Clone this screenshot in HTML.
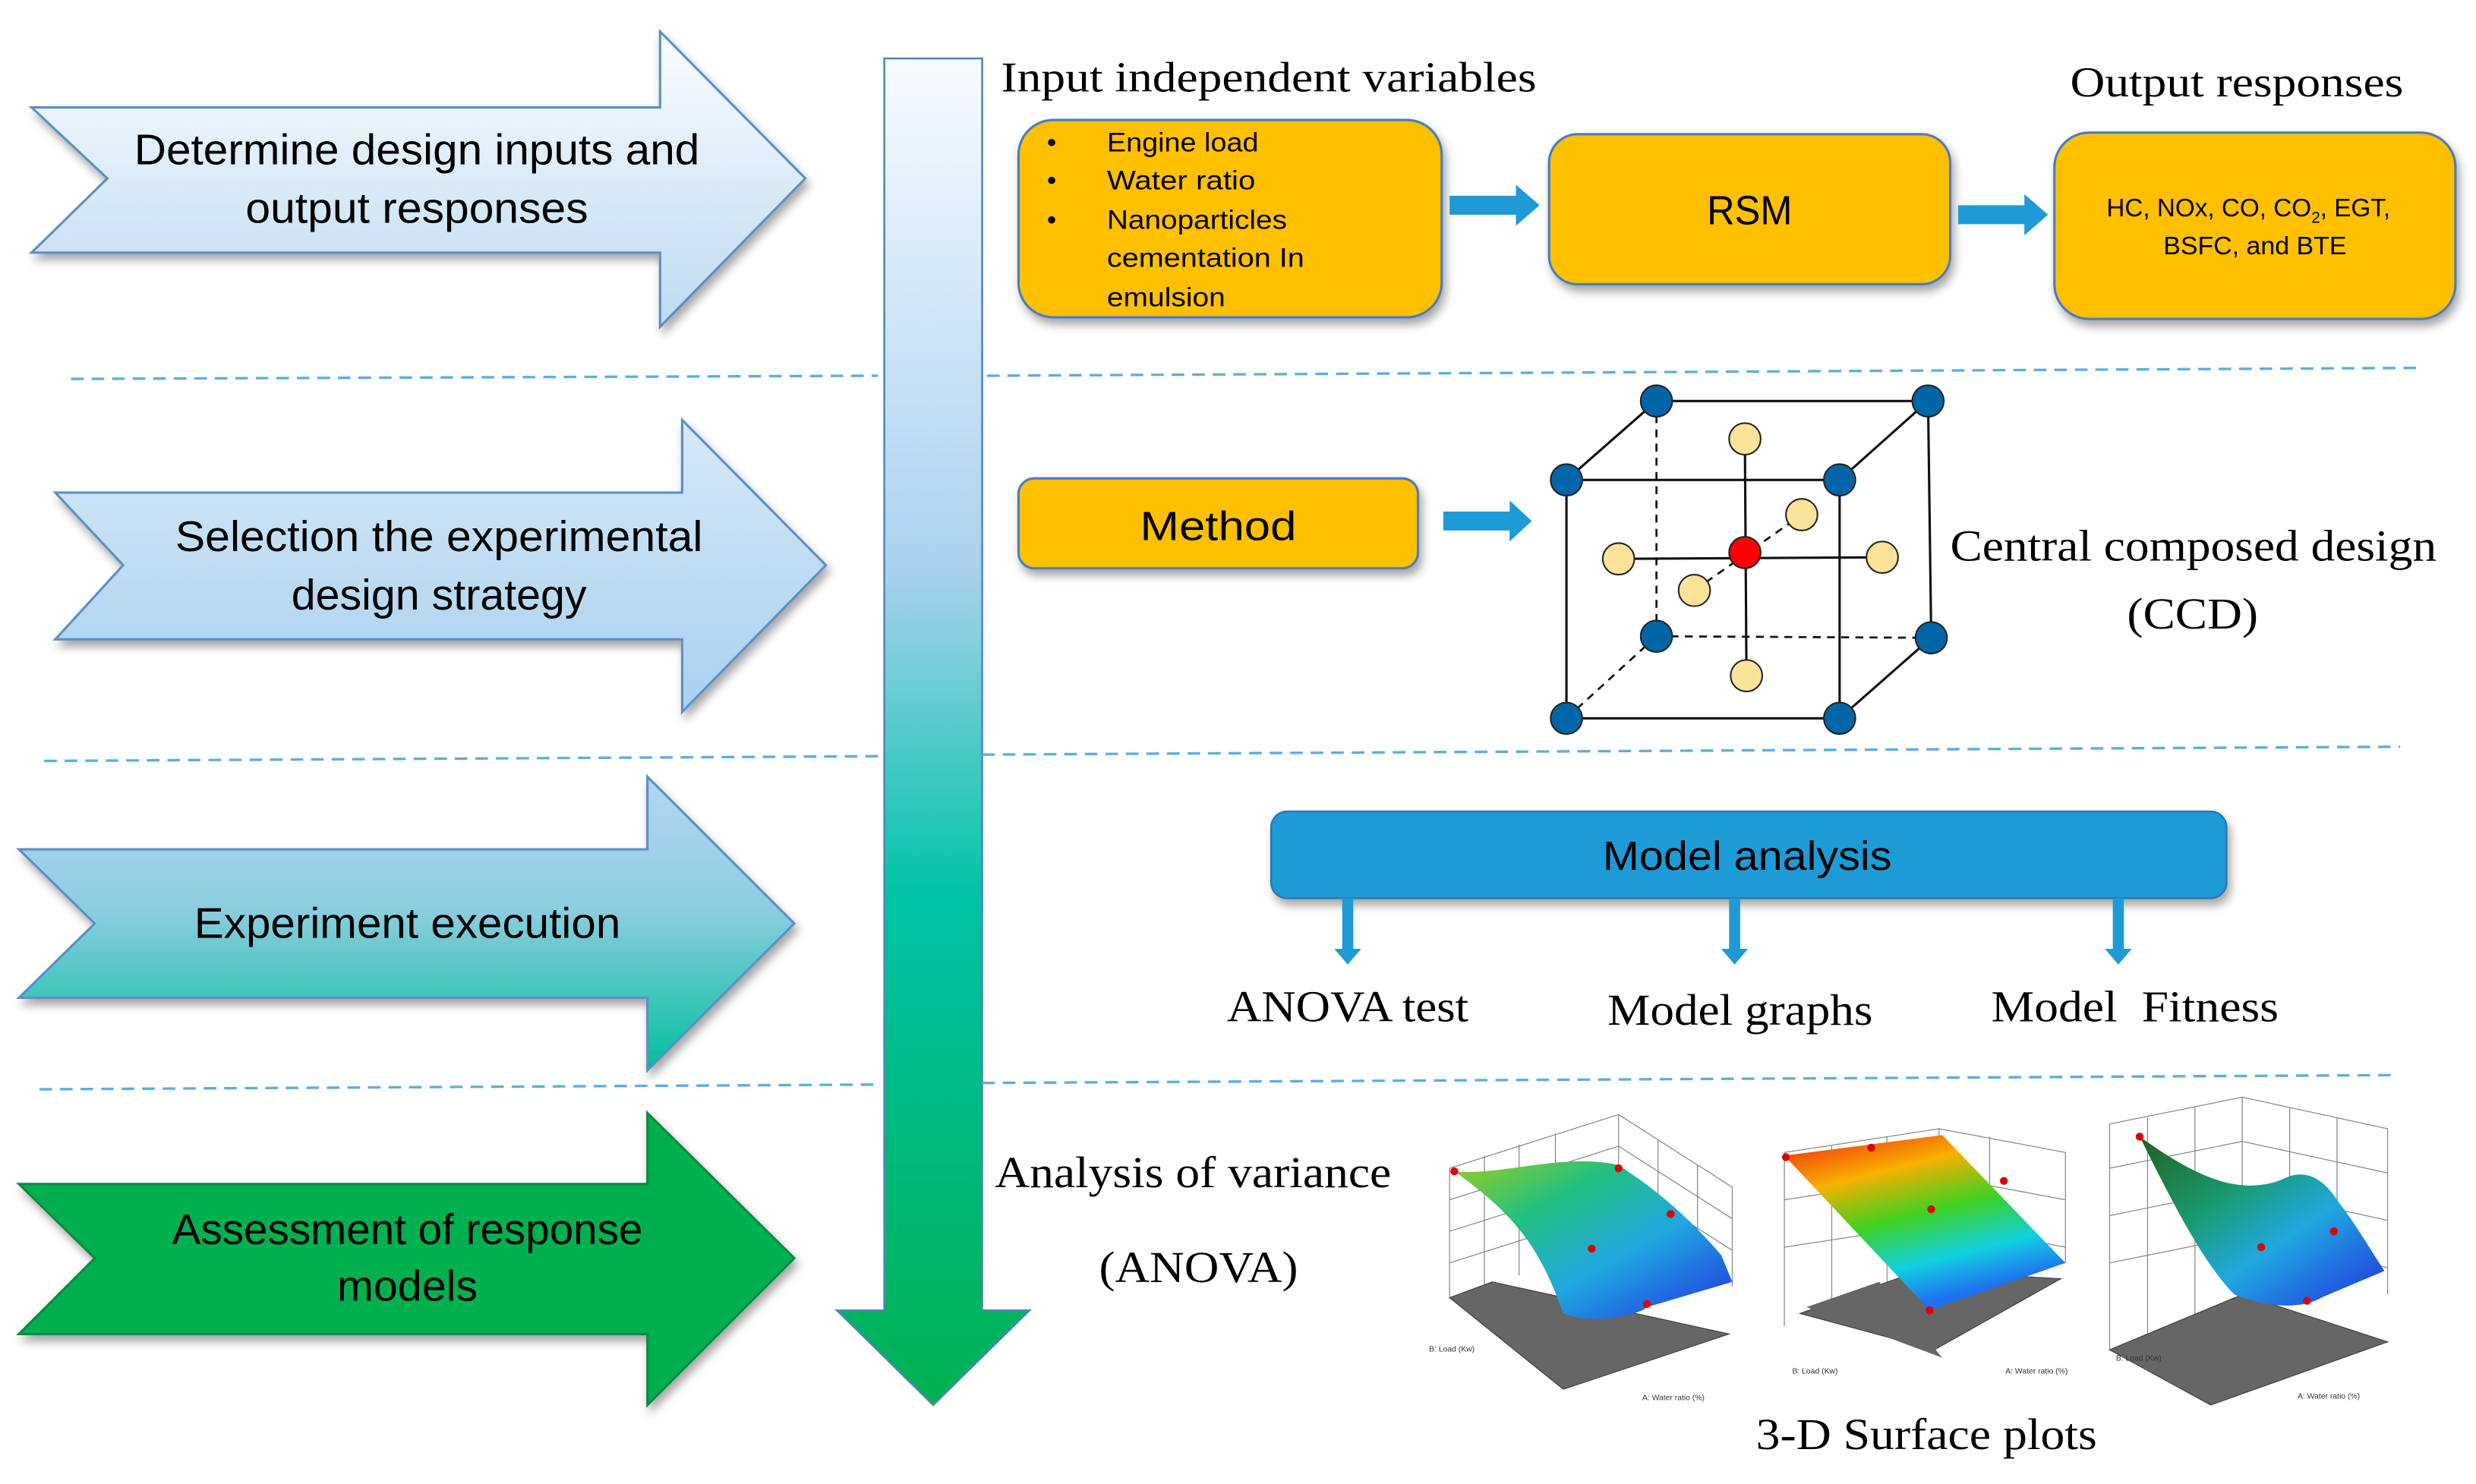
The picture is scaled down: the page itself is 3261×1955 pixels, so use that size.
<!DOCTYPE html>
<html><head><meta charset="utf-8"><style>
html,body{margin:0;padding:0;background:#fff;width:3261px;height:1955px;overflow:hidden}
svg{display:block}
.s{font-family:"Liberation Sans",sans-serif}
.r{font-family:"Liberation Serif",serif}
</style></head><body>
<svg width="3261" height="1955" viewBox="0 0 1568 940" xmlns="http://www.w3.org/2000/svg">
<defs>
<linearGradient id="g1" x1="0" y1="0" x2="0" y2="1"><stop offset="0" stop-color="#fbfdff"/><stop offset="1" stop-color="#bcdaf1"/></linearGradient>
<linearGradient id="g2" x1="0" y1="0" x2="0" y2="1"><stop offset="0" stop-color="#d6e9f8"/><stop offset="1" stop-color="#a8d0ee"/></linearGradient>
<linearGradient id="g3" x1="0" y1="0" x2="0" y2="1"><stop offset="0" stop-color="#b6d8f2"/><stop offset="0.45" stop-color="#8ccde0"/><stop offset="1" stop-color="#00bf9a"/></linearGradient>
<linearGradient id="gv" x1="0" y1="0" x2="0" y2="1"><stop offset="0" stop-color="#f7fbfe"/><stop offset="0.38" stop-color="#a9d1ef"/><stop offset="0.62" stop-color="#00c3a8"/><stop offset="1" stop-color="#00b050"/></linearGradient>
<linearGradient id="p1" x1="0" y1="0" x2="1" y2="1"><stop offset="0" stop-color="#9acc20"/><stop offset="0.3" stop-color="#22c080"/><stop offset="0.6" stop-color="#20a8e0"/><stop offset="1" stop-color="#2030e0"/></linearGradient>
<linearGradient id="p2" x1="0" y1="0" x2="0.4" y2="1"><stop offset="0" stop-color="#f02010"/><stop offset="0.3" stop-color="#f8b000"/><stop offset="0.55" stop-color="#40d020"/><stop offset="0.8" stop-color="#10d0e0"/><stop offset="1" stop-color="#2070f0"/></linearGradient>
<linearGradient id="p3" x1="0" y1="0" x2="1" y2="1"><stop offset="0" stop-color="#206020"/><stop offset="0.35" stop-color="#1a9a70"/><stop offset="0.6" stop-color="#20a8e0"/><stop offset="1" stop-color="#2030e0"/></linearGradient>
<filter id="sh" x="-10%" y="-10%" width="120%" height="130%"><feDropShadow dx="2" dy="4" stdDeviation="3" flood-color="#000" flood-opacity="0.35"/></filter>
</defs>

<path d="M20,68 L418,68 L418,20 L510,113 L418,207 L418,160 L20,160 L68,113 Z" fill="url(#g1)" stroke="#5b8fc7" stroke-width="1.5" filter="url(#sh)"/>
<path d="M35,312 L432,312 L432,266 L523,358 L432,451 L432,405 L35,405 L78,358 Z" fill="url(#g2)" stroke="#5b8fc7" stroke-width="1.5" filter="url(#sh)"/>
<path d="M12,538 L410,538 L410,492 L503,585 L410,678 L410,632 L12,632 L60,585 Z" fill="url(#g3)" stroke="#5b8fc7" stroke-width="1.5" filter="url(#sh)"/>
<path d="M12,750 L410,750 L410,705 L503,797 L410,890 L410,845 L12,845 L60,797 Z" fill="#00b050" stroke="#0a8a40" stroke-width="1.5" filter="url(#sh)"/>
<g class="s" font-size="27" text-anchor="middle" fill="#000" lengthAdjust="spacingAndGlyphs">
<text x="264" y="104" textLength="358" lengthAdjust="spacingAndGlyphs">Determine design inputs and</text>
<text x="264" y="141" textLength="217" lengthAdjust="spacingAndGlyphs">output responses</text>
<text x="278" y="349" textLength="334" lengthAdjust="spacingAndGlyphs">Selection the experimental</text>
<text x="278" y="386" textLength="187" lengthAdjust="spacingAndGlyphs">design strategy</text>
<text x="258" y="594" textLength="270" lengthAdjust="spacingAndGlyphs">Experiment execution</text>
<text x="258" y="788" textLength="298" lengthAdjust="spacingAndGlyphs">Assessment of response</text>
<text x="258" y="824" textLength="89" lengthAdjust="spacingAndGlyphs">models</text>
</g>

<path d="M560,37 L622,37 L622,830 L652,830 L591,890 L530,830 L560,830 Z" fill="url(#gv)" stroke="#4a86b8" stroke-width="1.2"/>

<g stroke="#5aaee0" stroke-width="1.6" stroke-dasharray="8,5" fill="none">
<line x1="45" y1="240" x2="556" y2="238"/><line x1="625" y1="238" x2="1535" y2="233"/>
<line x1="28" y1="482" x2="556" y2="479"/><line x1="622" y1="478" x2="1520" y2="473"/>
<line x1="25" y1="690" x2="556" y2="687"/><line x1="622" y1="686" x2="1518" y2="681"/>
</g>

<text class="r" x="634" y="58" font-size="27" textLength="339" lengthAdjust="spacingAndGlyphs">Input independent variables</text>
<text class="r" x="1311" y="61" font-size="27" textLength="211" lengthAdjust="spacingAndGlyphs">Output responses</text>
<rect x="645" y="76" width="268" height="125" rx="22" fill="#ffc000" stroke="#4a7cbf" stroke-width="1.5" filter="url(#sh)"/>
<g class="s" font-size="17">
<text x="663" y="96">•</text><text x="701" y="96" textLength="96" lengthAdjust="spacingAndGlyphs">Engine load</text>
<text x="663" y="120">•</text><text x="701" y="120" textLength="94" lengthAdjust="spacingAndGlyphs">Water ratio</text>
<text x="663" y="145">•</text><text x="701" y="145" textLength="114" lengthAdjust="spacingAndGlyphs">Nanoparticles</text>
<text x="701" y="169" textLength="125" lengthAdjust="spacingAndGlyphs">cementation In</text>
<text x="701" y="194" textLength="75" lengthAdjust="spacingAndGlyphs">emulsion</text>
</g>
<path d="M918,124 L960,124 L960,117 L975,130 L960,143 L960,136 L918,136 Z" fill="#1e9ad6"/>
<rect x="981" y="85" width="254" height="95" rx="18" fill="#ffc000" stroke="#4a7cbf" stroke-width="1.5" filter="url(#sh)"/>
<text class="s" x="1081" y="142" font-size="26" textLength="54" lengthAdjust="spacingAndGlyphs">RSM</text>
<path d="M1240,130 L1282,130 L1282,123 L1297,136 L1282,149 L1282,142 L1240,142 Z" fill="#1e9ad6"/>
<rect x="1301" y="84" width="254" height="118" rx="22" fill="#ffc000" stroke="#4a7cbf" stroke-width="1.5" filter="url(#sh)"/>
<g class="s" font-size="16">
<text x="1334" y="137">HC, NOx, CO, CO<tspan font-size="10" dy="4">2</tspan><tspan dy="-4">, EGT,</tspan></text>
<text x="1370" y="161" textLength="116" lengthAdjust="spacingAndGlyphs">BSFC, and BTE</text>
</g>

<rect x="645" y="303" width="253" height="57" rx="10" fill="#ffc000" stroke="#4a7cbf" stroke-width="1.5" filter="url(#sh)"/>
<text class="s" x="722" y="342" font-size="26" textLength="99" lengthAdjust="spacingAndGlyphs">Method</text>
<path d="M914,324 L956,324 L956,317 L970,330 L956,343 L956,336 L914,336 Z" fill="#1e9ad6"/>

<g stroke="#111" stroke-width="1.5" fill="none">
<rect x="992" y="304" width="173" height="151"/>
<line x1="992" y1="304" x2="1049" y2="254"/><line x1="1049" y1="254" x2="1221" y2="254"/>
<line x1="1165" y1="304" x2="1221" y2="254"/><line x1="1221" y1="254" x2="1223" y2="404"/>
<line x1="1165" y1="455" x2="1223" y2="404"/>
<line x1="1025" y1="354" x2="1192" y2="353"/><line x1="1105" y1="278" x2="1106" y2="428"/>
</g>
<g stroke="#111" stroke-width="1.3" stroke-dasharray="5,4" fill="none">
<line x1="1049" y1="254" x2="1049" y2="403"/><line x1="1049" y1="403" x2="1223" y2="404"/>
<line x1="992" y1="455" x2="1049" y2="403"/><line x1="1073" y1="374" x2="1141" y2="326"/>
</g>
<g stroke="#222" stroke-width="1" fill="#0066a8">
<circle cx="992" cy="304" r="10"/><circle cx="1165" cy="304" r="10"/><circle cx="992" cy="455" r="10"/><circle cx="1165" cy="455" r="10"/>
<circle cx="1049" cy="254" r="10"/><circle cx="1221" cy="254" r="10"/><circle cx="1049" cy="403" r="10"/><circle cx="1223" cy="404" r="10"/>
</g>
<g stroke="#222" stroke-width="1" fill="#fbe39a">
<circle cx="1105" cy="278" r="10"/><circle cx="1141" cy="326" r="10"/><circle cx="1025" cy="354" r="10"/><circle cx="1192" cy="353" r="10"/><circle cx="1073" cy="374" r="10"/><circle cx="1106" cy="428" r="10"/>
</g>
<circle cx="1105" cy="350" r="10" fill="#f00" stroke="#222" stroke-width="1"/>
<g class="r" font-size="28">
<text x="1235" y="355" textLength="308" lengthAdjust="spacingAndGlyphs">Central composed design</text>
<text x="1347" y="398" textLength="83" lengthAdjust="spacingAndGlyphs">(CCD)</text>
</g>

<rect x="805" y="514" width="605" height="55" rx="10" fill="#1a9bd7" stroke="#2a78b0" stroke-width="1.2" filter="url(#sh)"/>
<text class="s" x="1015" y="551" font-size="26" textLength="183" lengthAdjust="spacingAndGlyphs">Model analysis</text>
<g fill="#1e9ad6">
<path d="M850,569 L857,569 L857,601 L862,601 L853.5,611 L845,601 L850,601 Z"/>
<path d="M1095,569 L1102,569 L1102,601 L1107,601 L1098.5,611 L1090,601 L1095,601 Z"/>
<path d="M1338,569 L1345,569 L1345,601 L1350,601 L1341.5,611 L1333,601 L1338,601 Z"/>
</g>
<g class="r" font-size="28">
<text x="777" y="647" textLength="153" lengthAdjust="spacingAndGlyphs">ANOVA test</text>
<text x="1018" y="649" textLength="168" lengthAdjust="spacingAndGlyphs">Model graphs</text>
<text x="1261" y="647" textLength="182" lengthAdjust="spacingAndGlyphs" xml:space="preserve">Model  Fitness</text>
<text x="630" y="752" textLength="251" lengthAdjust="spacingAndGlyphs">Analysis of variance</text>
<text x="696" y="812" textLength="126" lengthAdjust="spacingAndGlyphs">(ANOVA)</text>
<text x="1112" y="918" textLength="216" lengthAdjust="spacingAndGlyphs">3-D Surface plots</text>
</g>

<g stroke="#888" stroke-width="0.6" fill="none">
<path d="M918,740 L1025,706 L1097,752 L1097,815 M918,740 L918,822 M1025,706 L1025,790 M940,732 L940,815 M962,725 L962,808 M985,718 L985,800 M1050,722 L1050,800 M1075,738 L1075,808 M918,760 L1025,726 L1097,772 M918,780 L1025,746 L1097,792 M918,800 L1025,766 L1097,812"/>
<path d="M1336,712 L1420,695 L1512,715 L1512,820 M1336,712 L1336,855 M1420,695 L1420,780 M1360,708 L1360,850 M1390,701 L1390,840 M1450,702 L1450,790 M1480,708 L1480,800 M1336,740 L1420,723 L1512,743 M1336,770 L1420,753 L1512,773 M1336,800 L1420,783 L1512,803"/>
<path d="M1130,730 L1228,715 L1308,730 L1308,800 M1130,730 L1130,840 M1228,715 L1228,790 M1160,726 L1160,830 M1195,720 L1195,820 M1260,720 L1260,795 M1130,760 L1228,745 L1308,760 M1130,790 L1228,775 L1308,790"/>
</g>
<path d="M918,822 L945,812 L1095,845 L990,880 Z" fill="#666" stroke="#444" stroke-width="0.6"/>
<path d="M921,742 C960,770 975,790 990,832 C1010,840 1040,832 1043,828 L1097,812 L1090,795 C1060,760 1035,745 1025,738 C990,730 950,745 921,742 Z" fill="url(#p1)"/>
<g fill="#d00"><circle cx="921" cy="742" r="2.5"/><circle cx="1025" cy="740" r="2.5"/><circle cx="1008" cy="791" r="2.5"/><circle cx="1043" cy="826" r="2.5"/><circle cx="1058" cy="769" r="2.5"/></g>
<g class="s" font-size="5" fill="#333"><text x="905" y="856">B: Load (Kw)</text><text x="1040" y="887">A: Water ratio (%)</text></g>
<path d="M1140,832 L1215,805 L1305,810 L1225,855 Z" fill="#666" stroke="#444" stroke-width="0.6"/>
<path d="M1144,828 L1190,812 L1230,860 Z" fill="#666"/>
<path d="M1130,732 L1230,719 L1308,800 L1222,830 Z" fill="url(#p2)"/>
<g fill="#d00"><circle cx="1131" cy="733" r="2.5"/><circle cx="1185" cy="727" r="2.5"/><circle cx="1223" cy="766" r="2.5"/><circle cx="1222" cy="830" r="2.5"/><circle cx="1269" cy="748" r="2.5"/></g>
<g class="s" font-size="5" fill="#333"><text x="1135" y="870">B: Load (Kw)</text><text x="1270" y="870">A: Water ratio (%)</text></g>
<path d="M1336,855 L1420,820 L1512,850 L1400,890 Z" fill="#666" stroke="#444" stroke-width="0.6"/>
<path d="M1355,720 C1375,760 1395,800 1415,820 C1440,830 1460,828 1470,822 L1510,805 C1500,790 1495,780 1480,760 C1470,745 1460,742 1450,745 C1420,760 1390,745 1355,720 Z" fill="url(#p3)"/>
<g fill="#d00"><circle cx="1355" cy="720" r="2.5"/><circle cx="1432" cy="790" r="2.5"/><circle cx="1461" cy="824" r="2.5"/><circle cx="1478" cy="780" r="2.5"/></g>
<g class="s" font-size="5" fill="#333"><text x="1340" y="862">B: Load (Kw)</text><text x="1455" y="886">A: Water ratio (%)</text></g>
</svg>
</body></html>
